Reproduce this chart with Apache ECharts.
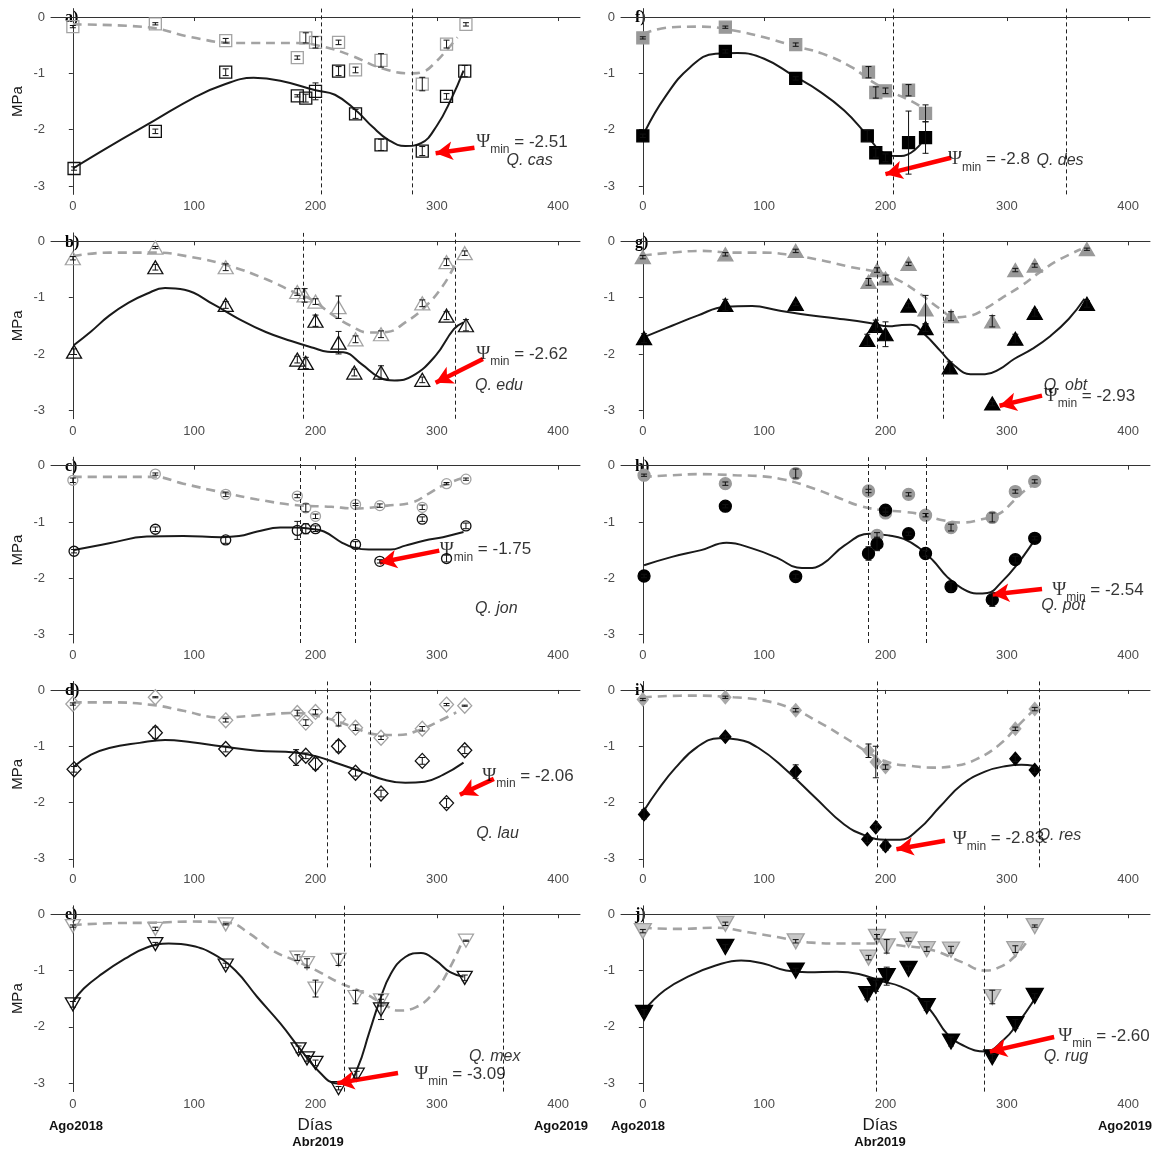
<!DOCTYPE html>
<html><head><meta charset="utf-8">
<script src="https://cdn.jsdelivr.net/npm/echarts@6/dist/echarts.min.js"></script>
<style>html,body{margin:0;padding:0;background:#fff}#c{width:1157px;height:1152px}</style>
</head><body><div id="c"></div>
<script>
// ---------- tick labels ----------
const xTicks = [0, 100, 200, 300, 400];
const yTicks = [-3, -2, -1, 0];

// ---------- data: [day, MPa, error] ----------
// a) Q. cas
const a_pd = [[0,-0.17,0.02],[68,-0.12,0.02],[126,-0.42,0.04],[185,-0.72,0.03],[192,-0.37,0.09],[200,-0.45,0.1],[219,-0.45,0.04],[233,-0.94,0.05],[254,-0.77,0.12],[288,-1.19,0.12],[308,-0.48,0.07],[324,-0.13,0.03]];
const a_md = [[1,-2.69,0.03],[68,-2.03,0.04],[126,-0.98,0.06],[185,-1.40,0.02],[192,-1.44,0.07],[200,-1.32,0.15],[219,-0.96,0.08],[233,-1.72,0.08],[254,-2.27,0.1],[288,-2.38,0.08],[308,-1.41,0.05],[323,-0.96,0.1]];
const a_pdCurve = [[0,-0.13],[61,-0.18],[98,-0.36],[134,-0.46],[183,-0.46],[207,-0.53],[229,-0.68],[256,-0.92],[280,-1.0],[289,-0.97],[299,-0.80],[308,-0.59],[317,-0.36]];
const a_mdCurve = [[0,-2.69],[30,-2.30],[67,-1.84],[100,-1.43],[122,-1.22],[149,-1.08],[171,-1.13],[200,-1.30],[216,-1.38],[233,-1.65],[247,-1.95],[260,-2.18],[274,-2.29],[287,-2.24],[300,-1.93],[312,-1.45],[322,-0.95]];
const a_vlines = [205, 280];
const a_arrow = [[331,-2.32],[299,-2.42]];
const a_psi = [332,-2.22,'-2.51'];
const a_sp = [357,-2.54,'Q. cas'];

// b) Q. edu
const b_pd = [[0,-0.30,0.03],[68,-0.11,0.02],[126,-0.46,0.06],[185,-0.90,0.06],[191,-0.96,0.12],[200,-1.07,0.05],[219,-1.17,0.2],[233,-1.74,0.06],[254,-1.65,0.06],[288,-1.10,0.06],[308,-0.37,0.06],[323,-0.21,0.04]];
const b_md = [[1,-1.96,0.05],[68,-0.46,0.05],[126,-1.13,0.06],[185,-2.10,0.06],[192,-2.16,0.1],[200,-1.41,0.1],[219,-1.80,0.2],[232,-2.33,0.06],[254,-2.33,0.12],[288,-2.46,0.05],[308,-1.32,0.07],[324,-1.49,0.1]];
const b_pdCurve = [[0,-0.26],[30,-0.20],[67,-0.20],[98,-0.28],[128,-0.43],[159,-0.67],[183,-0.91],[198,-1.05],[213,-1.29],[229,-1.50],[244,-1.62],[259,-1.61],[274,-1.44],[290,-1.17],[305,-0.79],[316,-0.37]];
const b_mdCurve = [[1,-1.84],[15,-1.60],[30,-1.32],[46,-1.09],[61,-0.93],[76,-0.83],[92,-0.86],[116,-1.12],[137,-1.38],[159,-1.61],[180,-1.77],[198,-1.89],[210,-1.96],[223,-1.97],[238,-2.18],[253,-2.42],[265,-2.47],[280,-2.39],[299,-2.03],[314,-1.56],[322,-1.44]];
const b_vlines = [190, 315];
const b_arrow = [[338,-2.09],[299,-2.51]];
const b_psi = [332,-2.0,'-2.62'];
const b_sp = [331,-2.56,'Q. edu'];

// c) Q. jon
const c_pd = [[0,-0.26,0.04],[68,-0.15,0.02],[126,-0.51,0.04],[185,-0.54,0.03],[192,-0.75,0.07],[200,-0.90,0.04],[233,-0.69,0.02],[253,-0.71,0.03],[288,-0.74,0.04],[308,-0.32,0.02],[324,-0.24,0.02]];
const c_md = [[1,-1.52,0.03],[68,-1.13,0.04],[126,-1.32,0.06],[185,-1.15,0.16],[192,-1.12,0.09],[200,-1.12,0.05],[233,-1.40,0.05],[253,-1.70,0.03],[288,-0.95,0.04],[308,-1.65,0.06],[324,-1.07,0.05]];
const c_pdCurve = [[0,-0.20],[30,-0.20],[67,-0.20],[91,-0.32],[122,-0.47],[152,-0.60],[183,-0.70],[213,-0.73],[232,-0.76],[259,-0.71],[280,-0.65],[293,-0.50],[305,-0.35],[320,-0.23]];
const c_mdCurve = [[1,-1.50],[30,-1.38],[61,-1.26],[91,-1.25],[122,-1.27],[137,-1.25],[152,-1.17],[171,-1.10],[183,-1.10],[195,-1.12],[207,-1.17],[222,-1.37],[232,-1.46],[244,-1.49],[262,-1.49],[274,-1.42],[290,-1.33],[305,-1.27],[322,-1.18]];
const c_vlines = [187.5, 233];
const c_arrow = [[302,-1.51],[253,-1.72]];
const c_psi = [302,-1.49,'-1.75'];
const c_sp = [331,-2.54,'Q. jon'];

// d) Q. lau
const d_pd = [[0,-0.25,0.02],[68,-0.13,0.01],[126,-0.54,0.03],[185,-0.41,0.05],[192,-0.58,0.05],[200,-0.39,0.04],[219,-0.52,0.12],[233,-0.67,0.05],[254,-0.85,0.03],[288,-0.69,0.04],[308,-0.26,0.02],[323,-0.28,0.01]];
const d_md = [[1,-1.41,0.05],[68,-0.76,0.1],[126,-1.05,0.05],[184,-1.20,0.14],[192,-1.17,0.05],[200,-1.31,0.1],[219,-1.00,0.1],[233,-1.47,0.06],[254,-1.84,0.06],[288,-1.26,0.06],[308,-2.01,0.08],[323,-1.07,0.06]];
const d_pdCurve = [[0,-0.22],[30,-0.22],[67,-0.27],[91,-0.37],[122,-0.49],[152,-0.45],[183,-0.41],[207,-0.49],[229,-0.64],[250,-0.79],[268,-0.80],[287,-0.70],[305,-0.52],[316,-0.40]];
const d_mdCurve = [[1,-1.36],[15,-1.15],[30,-1.03],[55,-0.94],[76,-0.89],[98,-0.93],[122,-1.00],[152,-1.08],[183,-1.11],[201,-1.18],[219,-1.31],[238,-1.45],[256,-1.59],[274,-1.65],[290,-1.63],[305,-1.51],[322,-1.29]];
const d_vlines = [209.5, 245];
const d_arrow = [[347,-1.58],[319,-1.86]];
const d_psi = [337,-1.53,'-2.06'];
const d_sp = [332,-2.55,'Q. lau'];

// e) Q. mex
const e_pd = [[0,-0.21,0.02],[68,-0.26,0.03],[126,-0.18,0.01],[185,-0.77,0.05],[193,-0.87,0.08],[200,-1.32,0.15],[219,-0.81,0.1],[233,-1.47,0.12],[254,-1.53,0.1],[324,-0.47,0.01]];
const e_md = [[0,-1.60,0.05],[68,-0.53,0.03],[126,-0.91,0.04],[186,-2.40,0.06],[193,-2.56,0.05],[200,-2.64,0.05],[219,-3.09,0.03],[234,-2.85,0.06],[254,-1.69,0.18],[323,-1.13,0.05]];
const e_pdCurve = [[0,-0.19],[30,-0.16],[67,-0.15],[98,-0.13],[128,-0.15],[146,-0.35],[165,-0.65],[183,-0.82],[201,-1.00],[219,-1.21],[238,-1.38],[256,-1.59],[268,-1.71],[283,-1.65],[299,-1.35],[311,-0.94],[320,-0.53]];
const e_mdCurve = [[0,-1.56],[9,-1.32],[24,-1.06],[43,-0.79],[61,-0.59],[79,-0.52],[98,-0.56],[116,-0.71],[134,-1.00],[152,-1.47],[171,-1.94],[189,-2.44],[204,-2.82],[216,-3.00],[226,-3.01],[235,-2.71],[244,-2.12],[253,-1.53],[262,-1.06],[274,-0.76],[287,-0.69],[299,-0.82],[311,-1.03],[322,-1.11]];
const e_vlines = [224, 355];
const e_arrow = [[268,-2.82],[218,-3.00]];
const e_psi = [281,-2.84,'-3.09'];
const e_sp = [326,-2.53,'Q. mex'];

// f) Q. des
const f_pd = [[0,-0.37,0.02],[68,-0.18,0.02],[126,-0.49,0.03],[186,-0.98,0.1],[192,-1.34,0.1],[200,-1.31,0.05],[219,-1.30,0.1],[233,-1.71,0.15]];
const f_md = [[0,-2.11,0.03],[68,-0.61,0.03],[126,-1.09,0.03],[185,-2.11,0.1],[192,-2.41,0.08],[200,-2.50,0.07],[219,-2.23,0.56],[233,-2.14,0.28]];
const f_pdCurve = [[0,-0.30],[24,-0.18],[48,-0.17],[75,-0.24],[100,-0.36],[124,-0.51],[148,-0.65],[172,-0.89],[190,-1.16],[206,-1.34],[221,-1.49],[232,-1.63]];
const f_mdCurve = [[2,-2.02],[18,-1.43],[39,-0.89],[60,-0.65],[78,-0.64],[100,-0.74],[124,-1.04],[145,-1.31],[166,-1.66],[184,-2.08],[196,-2.38],[209,-2.47],[221,-2.41],[233,-2.14]];
const f_vlines = [206, 349];
const f_arrow = [[254,-2.50],[200,-2.79]];
const f_psi = [251,-2.53,'-2.8'];
const f_sp = [324,-2.54,'Q. des'];

// g) Q. obt
const g_pd = [[0,-0.28,0.03],[68,-0.23,0.03],[126,-0.17,0.03],[186,-0.72,0.06],[193,-0.51,0.04],[200,-0.66,0.06],[219,-0.40,0.03],[233,-1.21,0.25],[254,-1.33,0.08],[288,-1.42,0.1],[307,-0.51,0.03],[323,-0.43,0.03],[366,-0.14,0.02]];
const g_md = [[1,-1.72,0.08],[68,-1.13,0.1],[126,-1.11,0.03],[185,-1.75,0.1],[192,-1.50,0.1],[200,-1.65,0.22],[219,-1.14,0.04],[233,-1.54,0.06],[253,-2.24,0.1],[288,-2.88,0.04],[307,-1.73,0.08],[323,-1.27,0.06],[366,-1.11,0.06]];
const g_pdCurve = [[0,-0.25],[24,-0.20],[48,-0.17],[75,-0.20],[100,-0.20],[124,-0.25],[148,-0.34],[172,-0.46],[194,-0.55],[209,-0.67],[227,-0.91],[245,-1.20],[257,-1.35],[270,-1.32],[282,-1.20],[297,-0.99],[312,-0.79],[327,-0.55],[342,-0.34],[361,-0.14]];
const g_mdCurve = [[1,-1.70],[24,-1.50],[45,-1.32],[68,-1.16],[90,-1.15],[112,-1.23],[130,-1.29],[160,-1.37],[187,-1.45],[203,-1.51],[212,-1.49],[221,-1.48],[233,-1.67],[245,-1.94],[257,-2.21],[270,-2.36],[282,-2.36],[294,-2.27],[306,-2.09],[321,-1.91],[336,-1.68],[351,-1.38],[364,-1.02]];
const g_vlines = [193, 248];
const g_arrow = [[329,-2.74],[294,-2.92]];
const g_psi = [330,-2.75,'-2.93'];
const g_sp = [330,-2.56,'Q. obt'];

// h) Q. pot
const h_pd = [[1,-0.17,0.02],[68,-0.32,0.03],[126,-0.14,0.08],[186,-0.45,0.03],[193,-1.24,0.05],[200,-0.84,0.03],[219,-0.51,0.03],[233,-0.88,0.03],[254,-1.10,0.06],[288,-0.92,0.08],[307,-0.46,0.03],[323,-0.28,0.03]];
const h_md = [[1,-1.96,0.03],[68,-0.72,0.03],[126,-1.97,0.04],[186,-1.56,0.12],[193,-1.39,0.12],[200,-0.79,0.04],[219,-1.21,0.03],[233,-1.56,0.05],[254,-2.15,0.08],[288,-2.38,0.12],[307,-1.67,0.06],[323,-1.29,0.03]];
const h_pdCurve = [[0,-0.20],[24,-0.17],[48,-0.15],[75,-0.17],[99,-0.19],[117,-0.25],[136,-0.37],[160,-0.56],[178,-0.71],[197,-0.79],[215,-0.82],[233,-0.88],[245,-0.96],[263,-1.01],[278,-0.96],[294,-0.85],[306,-0.62],[315,-0.44],[324,-0.32]];
const h_mdCurve = [[1,-1.77],[24,-1.62],[48,-1.50],[69,-1.37],[90,-1.47],[112,-1.65],[127,-1.81],[136,-1.82],[148,-1.75],[166,-1.42],[187,-1.21],[203,-1.24],[215,-1.30],[227,-1.45],[239,-1.68],[251,-1.98],[263,-2.18],[275,-2.27],[284,-2.26],[296,-2.06],[309,-1.74],[321,-1.38],[324,-1.27]];
const h_vlines = [186, 233.5];
const h_arrow = [[329,-2.19],[288,-2.29]];
const h_psi = [337,-2.21,'-2.54'];
const h_sp = [328,-2.49,'Q. pot'];

// i) Q. res
const i_pd = [[0,-0.17,0.02],[68,-0.13,0.02],[126,-0.36,0.03],[186,-1.08,0.12],[192,-1.28,0.28],[200,-1.37,0.04],[307,-0.69,0.03],[323,-0.34,0.03]];
const i_md = [[1,-2.21,0.08],[68,-0.83,0.03],[126,-1.45,0.12],[185,-2.65,0.06],[192,-2.44,0.05],[200,-2.77,0.08],[307,-1.22,0.05],[323,-1.42,0.05]];
const i_pdCurve = [[0,-0.13],[39,-0.10],[75,-0.13],[100,-0.19],[124,-0.34],[145,-0.57],[166,-0.84],[188,-1.14],[203,-1.29],[221,-1.35],[239,-1.38],[257,-1.35],[275,-1.23],[294,-0.97],[309,-0.64],[323,-0.34]];
const i_mdCurve = [[1,-2.14],[12,-1.79],[27,-1.38],[45,-1.01],[63,-0.86],[78,-0.88],[96,-1.04],[117,-1.40],[142,-1.91],[166,-2.39],[184,-2.59],[200,-2.66],[212,-2.66],[227,-2.48],[245,-2.07],[263,-1.68],[282,-1.45],[300,-1.35],[312,-1.33],[323,-1.35]];
const i_vlines = [193, 327];
const i_arrow = [[249,-2.68],[209,-2.83]];
const i_psi = [255,-2.64,'-2.83'];
const i_sp = [325,-2.58,'Q. res'];

// j) Q. rug
const j_pd = [[0,-0.30,0.03],[68,-0.17,0.03],[126,-0.48,0.03],[186,-0.77,0.04],[193,-0.40,0.04],[201,-0.57,0.12],[219,-0.45,0.03],[234,-0.62,0.04],[254,-0.63,0.06],[288,-1.47,0.12],[307,-0.62,0.06],[323,-0.21,0.02]];
const j_md = [[1,-1.75,0.06],[68,-0.58,0.04],[126,-1.00,0.04],[185,-1.42,0.1],[192,-1.27,0.1],[201,-1.10,0.16],[219,-0.97,0.05],[234,-1.63,0.08],[254,-2.26,0.08],[288,-2.54,0.05],[307,-1.95,0.08],[323,-1.45,0.04]];
const j_pdCurve = [[0,-0.24],[30,-0.26],[60,-0.24],[87,-0.32],[112,-0.41],[136,-0.50],[166,-0.52],[191,-0.52],[214,-0.56],[239,-0.64],[263,-0.85],[282,-1.00],[294,-0.94],[306,-0.76],[317,-0.47]];
const j_mdCurve = [[1,-1.71],[18,-1.35],[39,-1.09],[60,-0.91],[81,-0.82],[100,-0.88],[118,-1.00],[136,-1.03],[160,-1.02],[178,-1.06],[197,-1.19],[212,-1.28],[227,-1.47],[239,-1.76],[251,-2.13],[266,-2.35],[282,-2.44],[297,-2.24],[309,-1.94],[324,-1.47]];
const j_vlines = [192, 281.5];
const j_arrow = [[339,-2.18],[286,-2.44]];
const j_psi = [342,-2.16,'-2.60'];
const j_sp = [330,-2.53,'Q. rug'];

// ---------- panels (data references) ----------
const panelData = [
  {lab:'a)', pd:a_pd, md:a_md, pdc:a_pdCurve, mdc:a_mdCurve, vl:a_vlines, ar:a_arrow, psi:a_psi, sp:a_sp},
  {lab:'b)', pd:b_pd, md:b_md, pdc:b_pdCurve, mdc:b_mdCurve, vl:b_vlines, ar:b_arrow, psi:b_psi, sp:b_sp},
  {lab:'c)', pd:c_pd, md:c_md, pdc:c_pdCurve, mdc:c_mdCurve, vl:c_vlines, ar:c_arrow, psi:c_psi, sp:c_sp},
  {lab:'d)', pd:d_pd, md:d_md, pdc:d_pdCurve, mdc:d_mdCurve, vl:d_vlines, ar:d_arrow, psi:d_psi, sp:d_sp},
  {lab:'e)', pd:e_pd, md:e_md, pdc:e_pdCurve, mdc:e_mdCurve, vl:e_vlines, ar:e_arrow, psi:e_psi, sp:e_sp},
  {lab:'f)', pd:f_pd, md:f_md, pdc:f_pdCurve, mdc:f_mdCurve, vl:f_vlines, ar:f_arrow, psi:f_psi, sp:f_sp},
  {lab:'g)', pd:g_pd, md:g_md, pdc:g_pdCurve, mdc:g_mdCurve, vl:g_vlines, ar:g_arrow, psi:g_psi, sp:g_sp},
  {lab:'h)', pd:h_pd, md:h_md, pdc:h_pdCurve, mdc:h_mdCurve, vl:h_vlines, ar:h_arrow, psi:h_psi, sp:h_sp},
  {lab:'i)', pd:i_pd, md:i_md, pdc:i_pdCurve, mdc:i_mdCurve, vl:i_vlines, ar:i_arrow, psi:i_psi, sp:i_sp},
  {lab:'j)', pd:j_pd, md:j_md, pdc:j_pdCurve, mdc:j_mdCurve, vl:j_vlines, ar:j_arrow, psi:j_psi, sp:j_sp}
];

// ---------- styles ----------
const OPEN = 'rgba(0,0,0,0)';
const panelStyle = [
  {sym:'rect', size:[12,12], rot:0, pdFill:OPEN, pdBorder:'#a3a3a3', mdFill:OPEN, mdBorder:'#111'},
  {sym:'triangle', size:[15,13], rot:0, pdFill:OPEN, pdBorder:'#a3a3a3', mdFill:OPEN, mdBorder:'#111'},
  {sym:'circle', size:[10,10], rot:0, pdFill:OPEN, pdBorder:'#a3a3a3', mdFill:OPEN, mdBorder:'#111'},
  {sym:'diamond', size:[14,15], rot:0, pdFill:OPEN, pdBorder:'#a3a3a3', mdFill:OPEN, mdBorder:'#111'},
  {sym:'triangle', size:[15,13], rot:180, pdFill:OPEN, pdBorder:'#a3a3a3', mdFill:OPEN, mdBorder:'#111'},
  {sym:'rect', size:[12,12], rot:0, pdFill:'#999999', pdBorder:'#999999', mdFill:'#000', mdBorder:'#000'},
  {sym:'triangle', size:[15,13], rot:0, pdFill:'#999999', pdBorder:'#999999', mdFill:'#000', mdBorder:'#000'},
  {sym:'circle', size:[12,12], rot:0, pdFill:'#9a9a9a', pdBorder:'#9a9a9a', mdFill:'#000', mdBorder:'#000'},
  {sym:'diamond', size:[11,13], rot:0, pdFill:'#a8a8a8', pdBorder:'#a8a8a8', mdFill:'#000', mdBorder:'#000'},
  {sym:'triangle', size:[17,15], rot:180, pdFill:'#c8c8c8', pdBorder:'#a0a0a0', mdFill:'#000', mdBorder:'#000'}
];

const FONT = 'Liberation Sans, Arial, sans-serif';
const SERIF = 'Liberation Serif, Times New Roman, serif';
const grids = [], xAxes = [], yAxes = [], series = [], graphics = [];
const GL = [51, 621], GW = 529, GT0 = 8.6, GDY = 224.3, GH = 185.8;

function errRender(params, api) {
  const x = api.value(0), y = api.value(1), e = api.value(2);
  const t = api.coord([x, y + e]), b = api.coord([x, y - e]);
  const w = 3, st = {stroke:'#111', lineWidth:1};
  return {type:'group', children:[
    {type:'line', shape:{x1:t[0], y1:t[1], x2:b[0], y2:b[1]}, style:st},
    {type:'line', shape:{x1:t[0]-w, y1:t[1], x2:t[0]+w, y2:t[1]}, style:st},
    {type:'line', shape:{x1:b[0]-w, y1:b[1], x2:b[0]+w, y2:b[1]}, style:st}
  ]};
}

panelData.forEach((p, k) => {
  const col = k < 5 ? 0 : 1, row = k % 5;
  const s = panelStyle[k];
  const top = GT0 + GDY * row;
  grids.push({left: GL[col], top: top, width: GW, height: GH, containLabel: false});
  xAxes.push({
    gridIndex: k, type: 'value', min: -18, max: 418,
    axisLine: {lineStyle: {color: '#333', width: 1}},
    axisTick: {show: true, customValues: xTicks, length: 4, lineStyle: {color: '#333'}},
    axisLabel: {customValues: xTicks, color: '#4d4d4d', fontSize: 13, margin: 6, fontFamily: FONT},
    splitLine: {show: false}
  });
  yAxes.push({
    gridIndex: k, type: 'value', min: -3.15, max: 0.15,
    name: col === 0 ? 'MPa' : '', nameLocation: 'middle', nameGap: 26, nameRotate: 90,
    nameTextStyle: {fontSize: 15, color: '#1a1a1a', fontFamily: FONT},
    axisLine: {show: true, lineStyle: {color: '#333', width: 1}},
    axisTick: {show: true, customValues: yTicks, length: 4, lineStyle: {color: '#333'}},
    axisLabel: {customValues: yTicks, color: '#4d4d4d', fontSize: 13, margin: 6, fontFamily: FONT},
    splitLine: {show: false}
  });
  const ax = {xAxisIndex: k, yAxisIndex: k};
  series.push(Object.assign({
    type: 'line', data: p.pdc, smooth: 0.45, showSymbol: false, symbol: 'none',
    lineStyle: {color: '#a3a3a3', width: 2.6, type: [9, 6]}, z: 2, silent: true
  }, ax));
  series.push(Object.assign({
    type: 'line', data: p.mdc, smooth: 0.45, showSymbol: false, symbol: 'none',
    lineStyle: {color: '#1a1a1a', width: 2}, z: 2, silent: true,
    markLine: {
      silent: true, symbol: ['none', 'none'], animation: false,
      label: {show: false},
      lineStyle: {color: '#222', width: 1, type: [4, 3]},
      data: p.vl.map(v => ({xAxis: v}))
    }
  }, ax));
  series.push(Object.assign({
    type: 'scatter', data: p.pd.map(d => [d[0], d[1]]), symbol: s.sym, symbolSize: s.size, symbolRotate: s.rot,
    itemStyle: {color: s.pdFill, borderColor: s.pdBorder, borderWidth: 1.3, opacity: 1}, z: 3, silent: true
  }, ax));
  series.push(Object.assign({
    type: 'scatter', data: p.md.map(d => [d[0], d[1]]), symbol: s.sym, symbolSize: s.size, symbolRotate: s.rot,
    itemStyle: {color: s.mdFill, borderColor: s.mdBorder, borderWidth: 1.3, opacity: 1}, z: 4, silent: true
  }, ax));
  series.push(Object.assign({
    type: 'custom', data: p.pd.concat(p.md), renderItem: errRender,
    encode: {x: 0, y: 1}, z: 5, silent: true
  }, ax));
  series.push(Object.assign({
    type: 'scatter', symbol: 'circle', symbolSize: 1, itemStyle: {color: 'rgba(0,0,0,0)'}, z: 6, silent: true,
    data: [
      {value: [p.psi[0], p.psi[1]], label: {show: true, position: 'right', distance: 0,
        formatter: '{y|Ψ}{s|min}{p| = ' + p.psi[2] + '}',
        rich: {
          y: {fontSize: 19, color: '#000', fontFamily: SERIF, lineHeight: 28, verticalAlign: 'middle'},
          p: {fontSize: 17, color: '#000', fontFamily: FONT, lineHeight: 28, verticalAlign: 'middle'},
          s: {fontSize: 12, color: '#000', fontFamily: FONT, lineHeight: 28, verticalAlign: 'bottom'}
        }}},
      {value: [p.sp[0], p.sp[1]], label: {show: true, position: 'right', distance: 0,
        formatter: p.sp[2], fontSize: 16, fontStyle: 'italic', color: '#000', fontFamily: FONT}}
    ],
    markLine: {
      silent: true, animation: false, symbol: ['none', 'arrow'], symbolSize: [14, 17],
      label: {show: false},
      lineStyle: {color: '#ff0000', width: 4.5, type: 'solid'},
      data: [[{coord: p.ar[0]}, {coord: p.ar[1]}]]
    }
  }, ax));
  graphics.push({type: 'text', x: GL[col] + 14, y: top + 9.5,
    style: {text: p.lab, fontSize: 16, fontWeight: 'bold', fontFamily: SERIF,
      fill: '#000', textVerticalAlign: 'middle'}});
});

// bottom axis captions
[[315, 76, 318, 561], [880, 638, 880, 1125]].forEach(c => {
  graphics.push({type: 'text', x: c[0], y: 1125, style: {text: 'Días', fontSize: 17, fill: '#1a1a1a', fontFamily: FONT, textAlign: 'center', textVerticalAlign: 'middle'}});
  graphics.push({type: 'text', x: c[1], y: 1126, style: {text: 'Ago2018', fontSize: 13, fontWeight: 'bold', fill: '#111', fontFamily: FONT, textAlign: 'center', textVerticalAlign: 'middle'}});
  graphics.push({type: 'text', x: c[2], y: 1142, style: {text: 'Abr2019', fontSize: 13, fontWeight: 'bold', fill: '#111', fontFamily: FONT, textAlign: 'center', textVerticalAlign: 'middle'}});
  graphics.push({type: 'text', x: c[3], y: 1126, style: {text: 'Ago2019', fontSize: 13, fontWeight: 'bold', fill: '#111', fontFamily: FONT, textAlign: 'center', textVerticalAlign: 'middle'}});
});

const chart = echarts.init(document.getElementById('c'), null, {renderer: 'canvas'});
chart.setOption({
  backgroundColor: '#fff',
  animation: false,
  grid: grids, xAxis: xAxes, yAxis: yAxes, series: series, graphic: graphics
});
</script></body></html>
